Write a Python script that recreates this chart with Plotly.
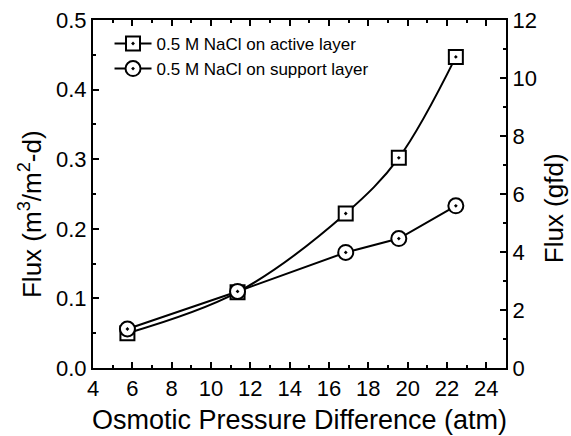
import plotly.graph_objects as go

pressure = [5.75, 11.35, 16.85, 19.55, 22.45]
flux_active = [0.050, 0.109, 0.222, 0.302, 0.447]
flux_support = [0.056, 0.110, 0.166, 0.186, 0.233]
name_active = "0.5 M NaCl on active layer"
name_support = "0.5 M NaCl on support layer"
title_x = "Osmotic Pressure Difference (atm)"
title_left = "Flux (m<sup>3</sup>/m<sup>2</sup>-d)"
title_right = "Flux (gfd)"

FONT = "Liberation Sans, Arial, sans-serif"

fig = go.Figure()
fig.add_trace(go.Scatter(
    x=pressure, y=flux_active, name=name_active, mode="lines+markers",
    line=dict(color="black", width=2, shape="spline", smoothing=1),
    marker=dict(symbol="square-dot", size=14, color="white",
                line=dict(color="black", width=2)),
))
fig.add_trace(go.Scatter(
    x=pressure, y=flux_support, name=name_support, mode="lines+markers",
    line=dict(color="black", width=2),
    marker=dict(symbol="circle-dot", size=15, color="white",
                line=dict(color="black", width=2)),
))
# invisible trace for right axis
fig.add_trace(go.Scatter(x=[None], y=[None], yaxis="y2", showlegend=False))

axis_common = dict(showline=True, linecolor="black", linewidth=2,
                   ticks="inside", ticklen=6, tickwidth=2, tickcolor="black",
                   showgrid=False, zeroline=False, automargin=False,
                   tickfont=dict(family=FONT, size=22, color="black"))

fig.update_layout(
    width=571, height=436,
    margin=dict(l=93, r=65, t=20, b=68),
    paper_bgcolor="white", plot_bgcolor="white",
    font=dict(family=FONT, color="black"),
    xaxis=dict(range=[4, 25], dtick=2, tick0=4, mirror="ticks",
               minor=dict(ticks="inside", ticklen=3, tickwidth=2, dtick=1, tickcolor="black"),
               title=dict(text=title_x, font=dict(family=FONT, size=27), standoff=10),
               **axis_common),
    yaxis=dict(range=[0, 0.5], dtick=0.1, tickformat=".1f",
               minor=dict(ticks="inside", ticklen=3, tickwidth=2, dtick=0.05, tickcolor="black"),
               **axis_common),
    yaxis2=dict(range=[0, 12], dtick=2, overlaying="y", side="right",
                minor=dict(ticks="inside", ticklen=3, tickwidth=2, dtick=1, tickcolor="black"),
                **axis_common),
    legend=dict(x=0.04, y=0.983, xanchor="left", yanchor="top",
                bgcolor="rgba(0,0,0,0)", font=dict(family=FONT, size=17),
                itemwidth=37),
    annotations=[
        dict(text=title_left, xref="paper", yref="paper", x=-0.1525, y=0.4425,
             xanchor="center", yanchor="middle", textangle=-90, showarrow=False,
             font=dict(family=FONT, size=26, color="black")),
        dict(text=title_right, xref="paper", yref="paper", x=1.117, y=0.46,
             xanchor="center", yanchor="middle", textangle=-90, showarrow=False,
             font=dict(family=FONT, size=26, color="black")),
    ],
)

# remove the default 8px page margin so the figure fills the window exactly
fig.write_html("out.html", config={"displayModeBar": False},
               post_script="document.body.style.margin='0';document.body.style.overflow='hidden';")
